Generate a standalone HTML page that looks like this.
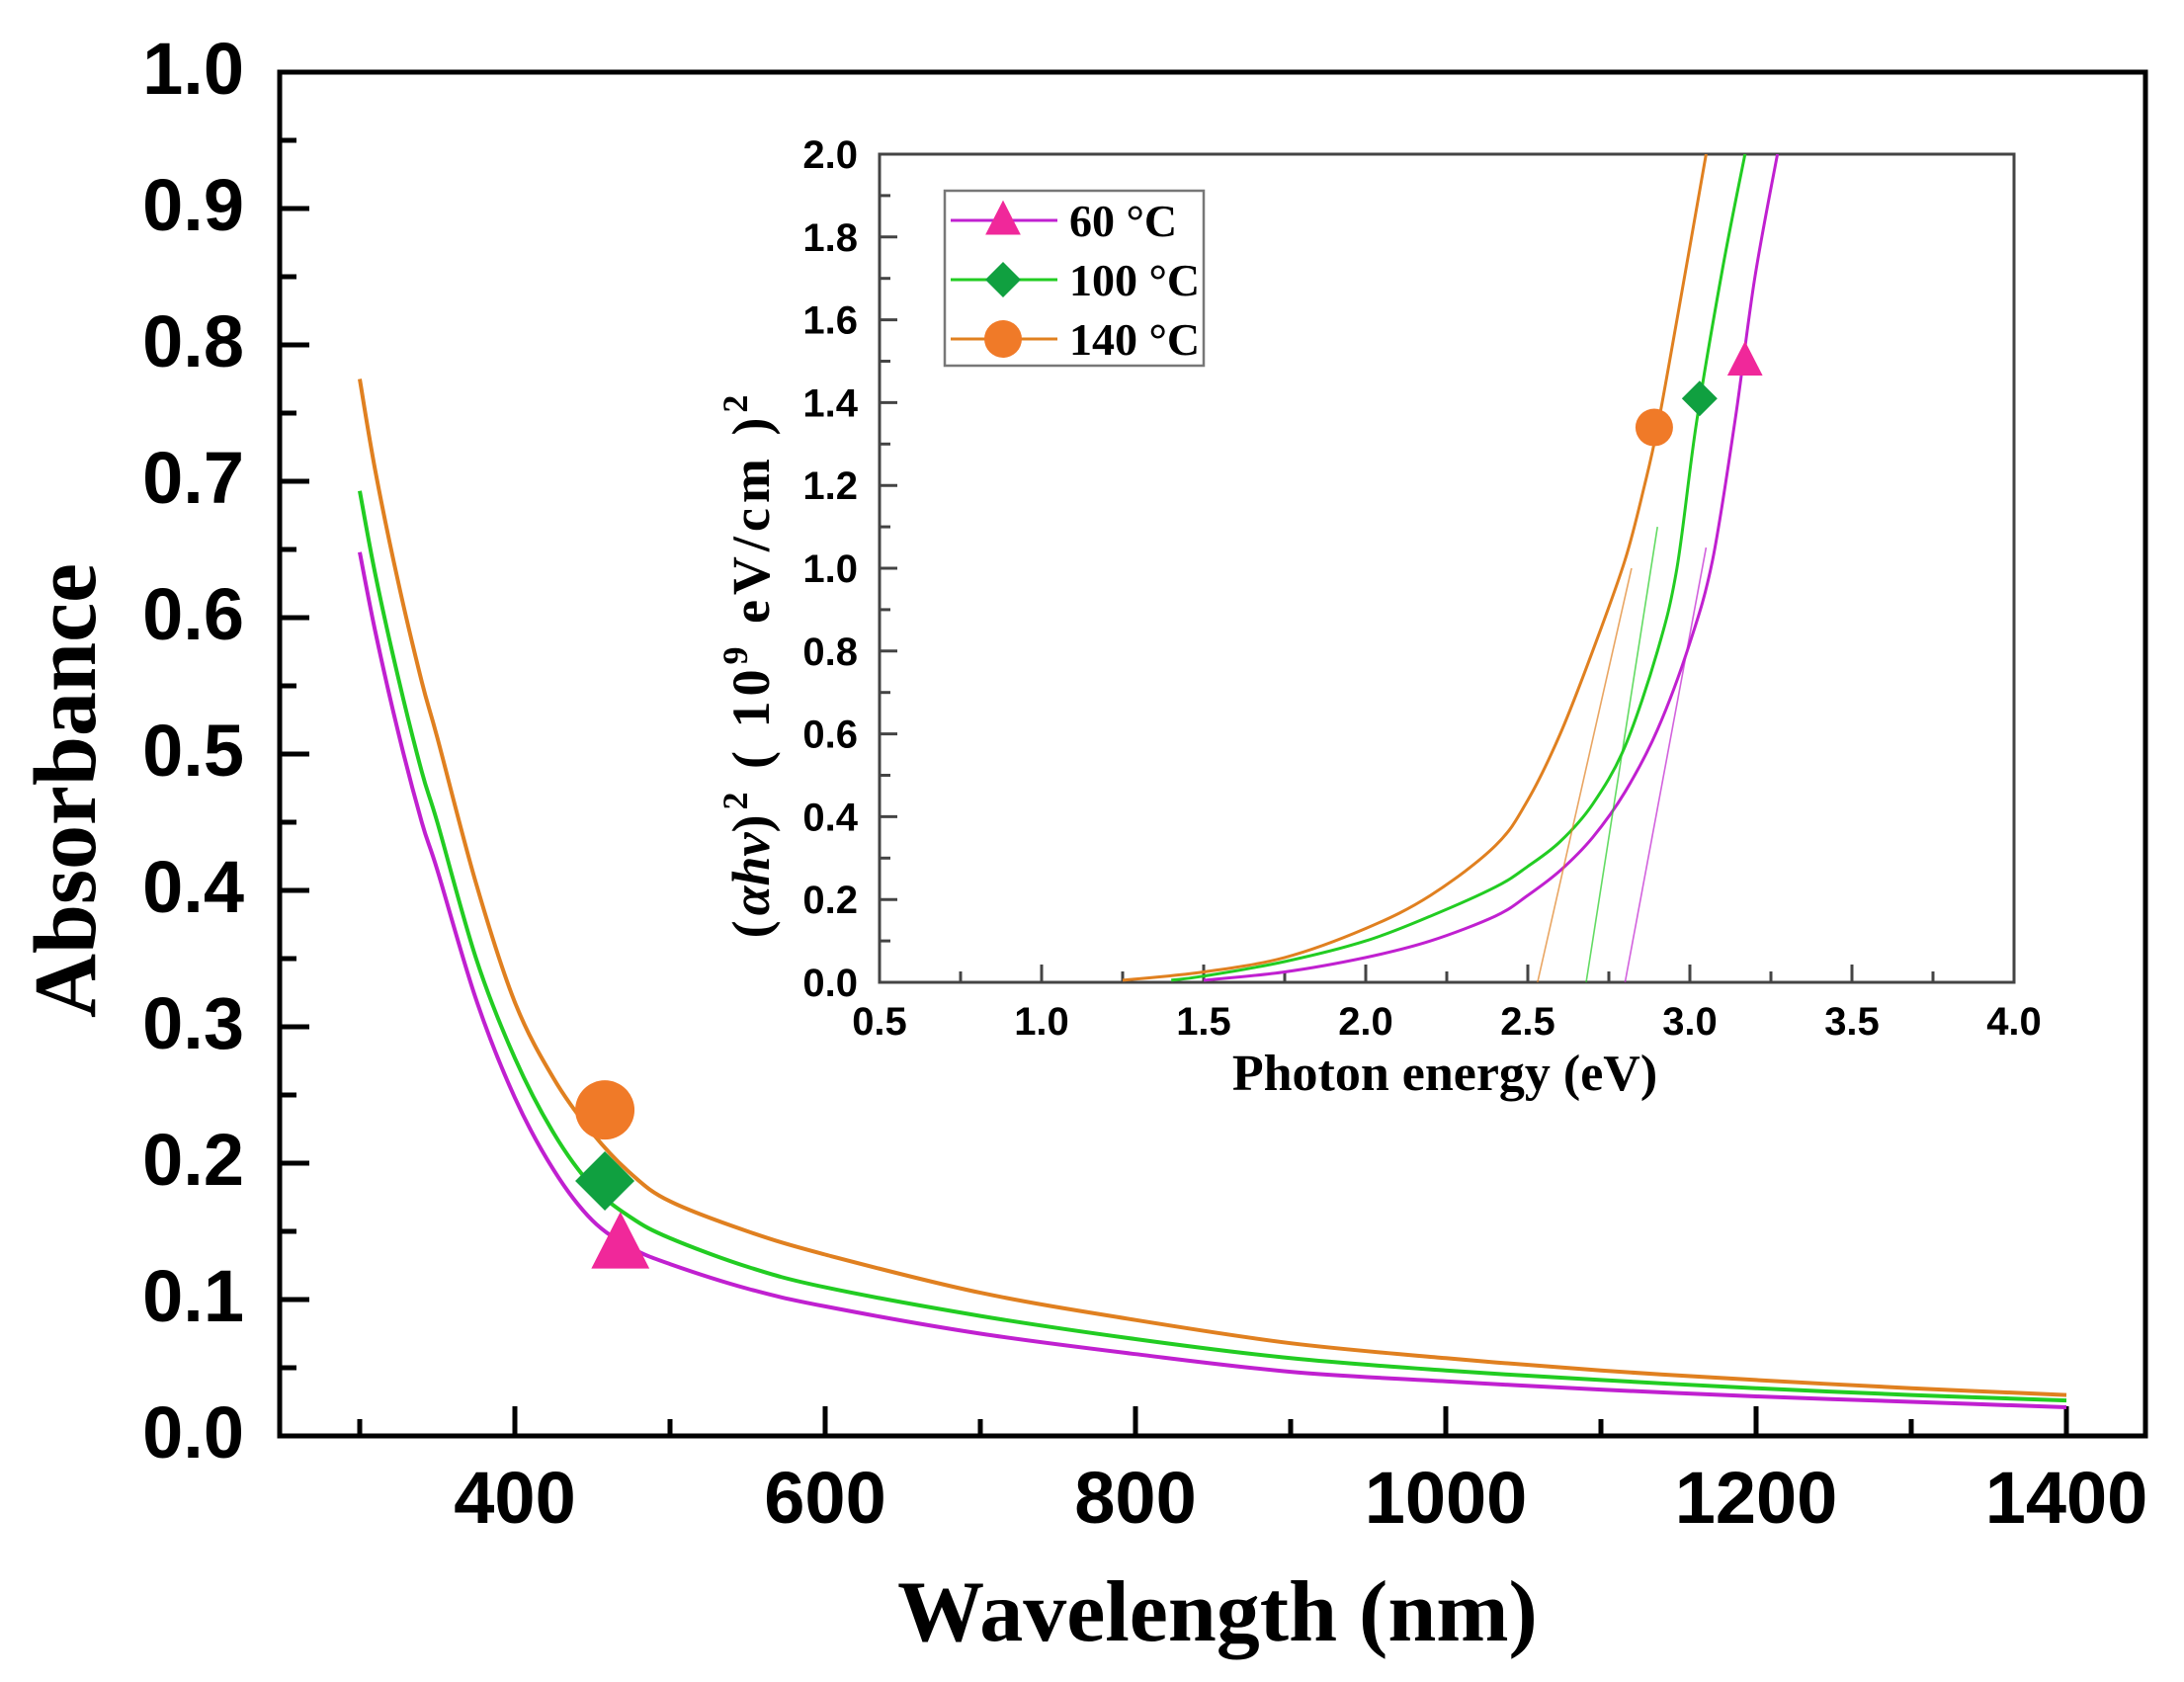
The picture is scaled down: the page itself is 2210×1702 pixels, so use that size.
<!DOCTYPE html>
<html><head><meta charset="utf-8"><style>
html,body{margin:0;padding:0;background:#fff;}
svg{display:block;}
.tk{font-family:"Liberation Sans",sans-serif;font-weight:bold;}
.sf{font-family:"Liberation Serif",serif;font-weight:bold;}
</style></head><body>
<svg id="chart" width="2210" height="1702" viewBox="0 0 2210 1702" xmlns="http://www.w3.org/2000/svg">
<rect width="2210" height="1702" fill="#fff"/>
<g id="main"></g>
<g id="inset"></g>
</svg>
<script>
// Main chart data
const wavelengths = [300,310,325,340,350,375,400,425,450,475,500,550,600,700,800,900,1000,1100,1200,1300,1400];
const abs60  = [0.648,0.59,0.515,0.45,0.415,0.32,0.248,0.195,0.158,0.138,0.126,0.108,0.095,0.075,0.060,0.047,0.040,0.034,0.029,0.025,0.021];
const abs100 = [0.693,0.632,0.555,0.487,0.45,0.35,0.277,0.222,0.183,0.160,0.145,0.124,0.109,0.088,0.071,0.057,0.048,0.041,0.035,0.030,0.026];
const abs140 = [0.775,0.708,0.625,0.553,0.512,0.405,0.318,0.262,0.222,0.192,0.172,0.150,0.133,0.105,0.085,0.068,0.057,0.048,0.041,0.035,0.030];
const markerWl = [468,458,458];
const markerAbs = [0.14,0.187,0.239];
const mainXTicks = [400,600,800,1000,1200,1400];
const mainYTicks = [0.0,0.1,0.2,0.3,0.4,0.5,0.6,0.7,0.8,0.9,1.0];
// Inset data
const ev60 = [1.5,1.75,2.0,2.2,2.4,2.5,2.6,2.7,2.8,2.9,3.0,3.07,3.14,3.2,3.27];
const tauc60 = [0.005,0.025,0.06,0.10,0.16,0.21,0.27,0.35,0.46,0.61,0.82,1.02,1.36,1.7,2.0];
const ev100 = [1.4,1.5,1.75,2.0,2.2,2.4,2.5,2.6,2.7,2.8,2.9,2.96,3.02,3.1,3.17];
const tauc100 = [0.005,0.015,0.05,0.10,0.16,0.23,0.28,0.34,0.43,0.57,0.8,1.0,1.35,1.72,2.0];
const ev140 = [1.25,1.5,1.75,2.0,2.2,2.4,2.5,2.6,2.7,2.8,2.86,2.9,2.96,3.05];
const tauc140 = [0.005,0.025,0.06,0.13,0.21,0.33,0.44,0.6,0.8,1.02,1.2,1.34,1.6,2.0];
const tangentEv = [[2.80,3.05],[2.68,2.90],[2.53,2.82]];
const tangentY = [[0,1.05],[0,1.1],[0,1.0]];
const insetMarkerEv = [3.17,3.03,2.89];
const insetMarkerY = [1.50,1.41,1.34];
const legendLabels = ["60 °C","100 °C","140 °C"];
const insetXTicks = [0.5,1.0,1.5,2.0,2.5,3.0,3.5,4.0];
const insetYTicks = [0.0,0.2,0.4,0.6,0.8,1.0,1.2,1.4,1.6,1.8,2.0];

const NS="http://www.w3.org/2000/svg";
const lineColors=["#c020d0","#22cc22","#e08020"];
const markColors=["#f0289a","#10a040","#f07a28"];
function mk(tag,attrs,parent){const e=document.createElementNS(NS,tag);for(const k in attrs)e.setAttribute(k,attrs[k]);parent.appendChild(e);return e;}
function smooth(pts){let d='M'+pts[0][0].toFixed(1)+','+pts[0][1].toFixed(1);
 for(let i=0;i<pts.length-1;i++){const p0=pts[Math.max(0,i-1)],p1=pts[i],p2=pts[i+1],p3=pts[Math.min(pts.length-1,i+2)];
  const c1=[p1[0]+(p2[0]-p0[0])/6,p1[1]+(p2[1]-p0[1])/6],c2=[p2[0]-(p3[0]-p1[0])/6,p2[1]-(p3[1]-p1[1])/6];
  d+=` C${c1[0].toFixed(1)},${c1[1].toFixed(1)} ${c2[0].toFixed(1)},${c2[1].toFixed(1)} ${p2[0].toFixed(1)},${p2[1].toFixed(1)}`;}
 return d;}

// main axes
const mx=v=>521+(v-400)*1.57, my=v=>1453-v*1380;
const M=document.getElementById('main');
const frame=mk('rect',{x:283,y:73,width:1888,height:1380,fill:'none',stroke:'#000','stroke-width':5},M);


for(let v=0;v<=1.0001;v+=0.05){const maj=Math.abs(v*10-Math.round(v*10))<1e-6;
 const t=mk('line',{x1:283,x2:283+(maj?30:17),y1:my(v),y2:my(v),stroke:'#000','stroke-width':5},M);
 }
for(let v=300;v<=1400;v+=100){const maj=v%200===0;
 const t=mk('line',{x1:mx(v),x2:mx(v),y1:1453,y2:1453-(maj?30:17),stroke:'#000','stroke-width':5},M);
 }
mainYTicks.forEach(v=>{const t=mk('text',{x:247,y:my(v)+22,'text-anchor':'end','font-size':74,class:'tk'},M);t.textContent=v.toFixed(1);
 });
mainXTicks.forEach(v=>{const t=mk('text',{x:mx(v),y:1541,'text-anchor':'middle','font-size':74,class:'tk'},M);t.textContent=v;
 });
const xt=mk('text',{x:1232,y:1660,'text-anchor':'middle','font-size':88,class:'sf'},M);xt.textContent='Wavelength (nm)';

const yt=mk('text',{x:0,y:0,'text-anchor':'middle','font-size':90,class:'sf',transform:'translate(96,800) rotate(-90)'},M);yt.textContent='Absorbance';

[abs60,abs100,abs140].forEach((s,i)=>{
 const d=smooth(s.map((v,j)=>[mx(wavelengths[j]),my(v)]));
 const p=mk('path',{d:d,fill:'none',stroke:lineColors[i],'stroke-width':4},M);
 });
function marker(type,cx,cy,r,col,parent){let e;
 if(type===0)e=mk('polygon',{points:`${cx},${cy-r*1.2} ${cx-r*1.05},${cy+r*0.85} ${cx+r*1.05},${cy+r*0.85}`,fill:col},parent);
 else if(type===1)e=mk('polygon',{points:`${cx},${cy-r} ${cx+r},${cy} ${cx},${cy+r} ${cx-r},${cy}`,fill:col},parent);
 else e=mk('circle',{cx:cx,cy:cy,r:r,fill:col},parent);
 return e;}
markerWl.forEach((w,i)=>{const e=marker(i,mx(w),my(markerAbs[i]),i===2?30:(i===1?30:28),markColors[i],M);
 });

// inset
const ix=v=>890+(v-0.5)*328, iy=v=>994-v*419;
const I=document.getElementById('inset');
const ib=mk('rect',{x:890,y:156,width:1148,height:838,fill:'#fff',stroke:'#444','stroke-width':3},I);

for(let k=0;k<=20;k++){const v=k*0.1;const maj=k%2===0;
 const t=mk('line',{x1:890,x2:890+(maj?18:11),y1:iy(v),y2:iy(v),stroke:'#444','stroke-width':3},I);
 }
for(let k=0;k<=14;k++){const v=0.5+k*0.25;const maj=k%2===0;
 const t=mk('line',{x1:ix(v),x2:ix(v),y1:994,y2:994-(maj?18:11),stroke:'#444','stroke-width':3},I);
 }
insetYTicks.forEach(v=>{const t=mk('text',{x:868,y:iy(v)+14,'text-anchor':'end','font-size':40,class:'tk'},I);t.textContent=v.toFixed(1);
 });
insetXTicks.forEach(v=>{const t=mk('text',{x:ix(v),y:1047,'text-anchor':'middle','font-size':40,class:'tk'},I);t.textContent=v.toFixed(1);
 });
const it=mk('text',{x:1462,y:1103,'text-anchor':'middle','font-size':52,class:'sf'},I);it.textContent='Photon energy (eV)';

const iyt=mk('text',{x:0,y:0,'text-anchor':'middle','font-size':54,'letter-spacing':5,class:'sf',transform:'translate(778,672) rotate(-90)'},I);
iyt.innerHTML='(<tspan font-style="italic" letter-spacing="0">αhν</tspan>)<tspan dy="-22" font-size="36">2</tspan><tspan dy="22"> ( 10</tspan><tspan dy="-22" font-size="36">9</tspan><tspan dy="22"> eV/cm )</tspan><tspan dy="-22" font-size="36">2</tspan>';

const defs=mk('defs',{},I);const cp=mk('clipPath',{id:'ic'},defs);mk('rect',{x:890,y:156,width:1148,height:838},cp);
const IC=mk('g',{'clip-path':'url(#ic)'},I);
[[ev60,tauc60],[ev100,tauc100],[ev140,tauc140]].forEach((s,i)=>{
 const d=smooth(s[1].map((v,j)=>[ix(s[0][j]),iy(v)]));
 const p=mk('path',{d:d,fill:'none',stroke:lineColors[i],'stroke-width':3},IC);
 
 const l=mk('line',{x1:ix(tangentEv[i][0]),y1:iy(tangentY[i][0]),x2:ix(tangentEv[i][1]),y2:iy(tangentY[i][1]),stroke:lineColors[i],'stroke-width':1.6,opacity:0.7},IC);
 });
insetMarkerEv.forEach((e,i)=>{const m=marker(i,ix(e),iy(insetMarkerY[i]),i===0?17:(i===1?18:19),markColors[i],I);
 });
// legend
const L=mk('g',{},I);
mk('rect',{x:956,y:193,width:262,height:177,fill:'#fff',stroke:'#777','stroke-width':2.5},L);
legendLabels.forEach((lab,i)=>{const y=223+i*60;
 const g=mk('g',{},L);
 mk('line',{x1:962,x2:1070,y1:y,y2:y,stroke:lineColors[i],'stroke-width':3},g);
 marker(i,1015,y,i===0?17:(i===1?18:19),markColors[i],g);
 const t=mk('text',{x:1082,y:y+16,'font-size':46,class:'sf'},g);t.textContent=lab;});
</script>
</body></html>
